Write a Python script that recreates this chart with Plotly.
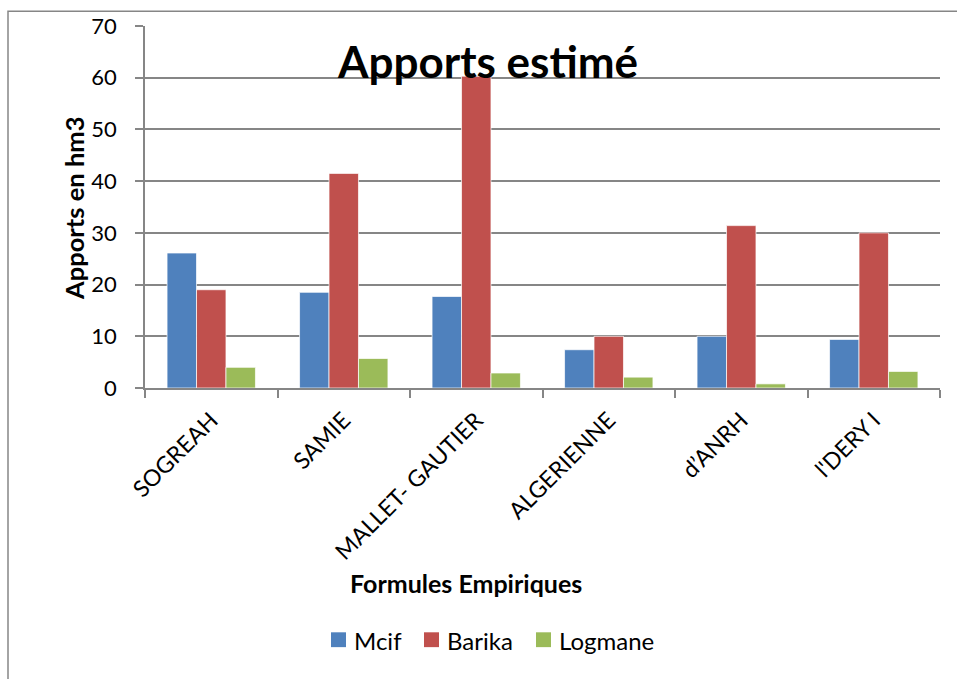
import plotly.graph_objects as go

categories = ["SOGREAH", "SAMIE", "MALLET- GAUTIER", "ALGERIENNE", "d’ANRH", "l'DERY I"]
mcif = [26.1, 18.5, 17.7, 7.4, 10.0, 9.4]
barika = [19.0, 41.5, 60.3, 10.0, 31.4, 30.0]
logmane = [4.0, 5.7, 2.9, 2.1, 0.8, 3.2]
y_ticks = [0, 10, 20, 30, 40, 50, 60, 70]
series_names = ["Mcif", "Barika", "Logmane"]
series_colors = ["#4F81BD", "#C0504D", "#9BBB59"]

FONT = "Lato"
L, R, T, B, W, H = 145, 17, 22, 291, 957, 679
PW, PH = W - L - R, H - T - B


def px_x(px):
    return (px - L) / PW


def px_y(py):
    return (H - B - py) / PH


fig = go.Figure()
for name, vals, col in zip(series_names, [mcif, barika, logmane], series_colors):
    fig.add_trace(go.Bar(x=categories, y=vals, name=name,
                         marker=dict(color=col, line=dict(color="rgba(255,255,255,0.7)", width=1))))

annotations = [
    dict(text="<b>Apports estimé</b>", xref="paper", yref="paper", x=px_x(487), y=px_y(57),
         showarrow=False, font=dict(size=44, family=FONT), xanchor="center", yanchor="middle"),
    dict(text="<b>Apports en hm3</b>", xref="paper", yref="paper", x=px_x(74), y=px_y(207),
         showarrow=False, textangle=-90, font=dict(size=25.5, family=FONT), xanchor="center", yanchor="middle"),
    dict(text="<b>Formules Empiriques</b>", xref="paper", yref="paper", x=px_x(466), y=px_y(585),
         showarrow=False, font=dict(size=25, family=FONT), xanchor="center", yanchor="middle"),
]
shapes = [dict(type="rect", xref="paper", yref="paper", x0=px_x(8), x1=px_x(960), y0=px_y(690), y1=px_y(7),
               line=dict(color="#868686", width=1.5))]

# custom legend
sq_left = [331, 424, 536]
for name, col, sx in zip(series_names, series_colors, sq_left):
    shapes.append(dict(type="rect", xref="paper", yref="paper", x0=px_x(sx), x1=px_x(sx + 15),
                       y0=px_y(650), y1=px_y(635), fillcolor=col, line=dict(width=0)))
    annotations.append(dict(text=name, xref="paper", yref="paper", x=px_x(sx + 21), y=px_y(643),
                            showarrow=False, font=dict(size=24, family=FONT), xanchor="left", yanchor="middle"))

fig.update_layout(
    width=W, height=H,
    margin=dict(l=L, r=R, t=T, b=B),
    paper_bgcolor="white", plot_bgcolor="white",
    barmode="group", bargap=0.333, bargroupgap=0,
    font=dict(family=FONT, color="black", size=22),
    showlegend=False,
    xaxis=dict(showline=True, linecolor="#868686", linewidth=1.5, ticks="outside", tickson="boundaries",
               ticklen=8, tickcolor="#868686", tickwidth=1.5, tickangle=-45, ticklabelstandoff=8,
               tickfont=dict(size=23, family=FONT), showgrid=False),
    yaxis=dict(range=[0, 70], tickvals=y_ticks, showline=True, linecolor="#868686", linewidth=1.5,
               ticks="outside", ticklen=8, tickcolor="#868686", tickwidth=1.5, ticklabelstandoff=14,
               showgrid=True, gridcolor="#868686", gridwidth=1.5, zeroline=False,
               tickfont=dict(size=22, family=FONT)),
    annotations=annotations,
    shapes=shapes,
)
fig.write_html("out.html")
